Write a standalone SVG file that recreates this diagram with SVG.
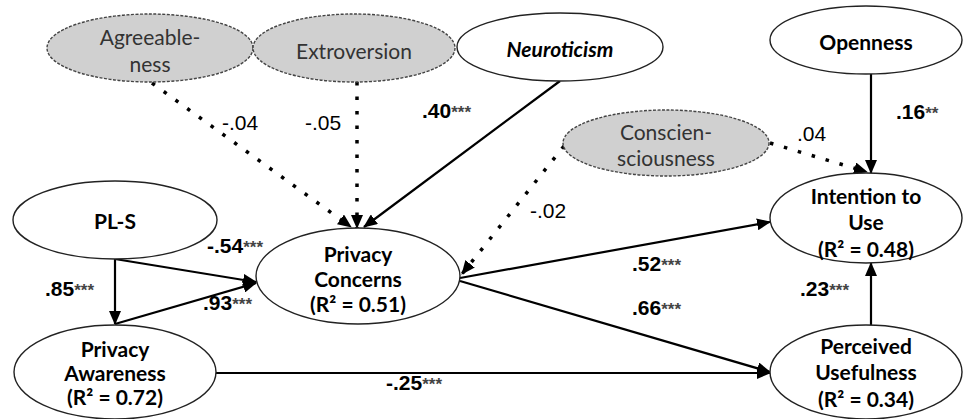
<svg xmlns="http://www.w3.org/2000/svg" width="967" height="419" viewBox="0 0 967 419">
<defs>
<marker id="ah" markerUnits="userSpaceOnUse" markerWidth="14" markerHeight="12" refX="13" refY="6" orient="auto">
<path d="M0,0 L14,6 L0,12 Z" fill="#000"/>
</marker>
<style>
.w{fill:#fff;stroke:#222;stroke-width:1.4}
.g{fill:#d0d0d0;stroke:#444;stroke-width:1.4;stroke-dasharray:3 1.5}
.nt{font-family:Lato,"Open Sans",sans-serif;font-size:21px;text-anchor:middle}
.b{font-weight:bold;fill:#000}
.r{fill:#333}
.lab{font-family:"Liberation Sans",Arial,sans-serif;font-size:21px}
.lb{font-weight:bold}
.ast{font-size:17px;fill:#444}
.s{fill:none;stroke:#000;stroke-width:2.2}
.d{fill:none;stroke:#000;stroke-width:3.5;stroke-dasharray:3.5 11;}
</style>
</defs>
<g id="connectors">
<line class="d" x1="152" y1="83" x2="351" y2="227" marker-end="url(#ah)"/>
<line class="d" x1="357" y1="82" x2="357" y2="228" marker-end="url(#ah)"/>
<line class="s" x1="560" y1="81" x2="364" y2="227" marker-end="url(#ah)"/>
<line class="d" x1="564" y1="146" x2="462" y2="274" marker-end="url(#ah)"/>
<line class="d" x1="770" y1="143" x2="867" y2="172" marker-end="url(#ah)"/>
<line class="s" x1="871" y1="74" x2="871" y2="173" marker-end="url(#ah)"/>
<line class="s" x1="871" y1="325" x2="871" y2="263" marker-end="url(#ah)"/>
<line class="s" x1="115" y1="259" x2="115" y2="324" marker-end="url(#ah)"/>
<line class="s" x1="115" y1="259" x2="256" y2="282" marker-end="url(#ah)"/>
<line class="s" x1="115" y1="324" x2="256" y2="283" marker-end="url(#ah)"/>
<line class="s" x1="460" y1="278" x2="770" y2="222" marker-end="url(#ah)"/>
<line class="s" x1="460" y1="281" x2="770" y2="372" marker-end="url(#ah)"/>
<line class="s" x1="215" y1="373" x2="770" y2="373" marker-end="url(#ah)"/>
</g>
<g id="labels" class="lab">
<text x="222" y="130">-.04</text>
<text x="305" y="130">-.05</text>
<text x="797" y="141">.04</text>
<text x="530" y="218">-.02</text>
<text class="lb" x="422" y="118">.40<tspan class="ast">***</tspan></text>
<text class="lb" x="896" y="119">.16<tspan class="ast">**</tspan></text>
<text class="lb" x="207" y="253">-.54<tspan class="ast">***</tspan></text>
<text class="lb" x="45" y="296">.85<tspan class="ast">***</tspan></text>
<text class="lb" x="203" y="310">.93<tspan class="ast">***</tspan></text>
<text class="lb" x="632" y="271">.52<tspan class="ast">***</tspan></text>
<text class="lb" x="632" y="315">.66<tspan class="ast">***</tspan></text>
<text class="lb" x="800" y="296">.23<tspan class="ast">***</tspan></text>
<text class="lb" x="386" y="390">-.25<tspan class="ast">***</tspan></text>
</g>
<g id="agreeableness">
<ellipse class="g" cx="150" cy="48" rx="103" ry="34"/>
<text class="nt r" x="150" y="45">Agreeable-</text>
<text class="nt r" x="150" y="72">ness</text>
</g>
<g id="extroversion">
<ellipse class="g" cx="354" cy="48" rx="101" ry="34"/>
<text class="nt r" x="354" y="59">Extroversion</text>
</g>
<g id="neuroticism">
<ellipse class="w" cx="560" cy="47" rx="103" ry="34"/>
<text class="nt b" x="560" y="57" font-style="italic">Neuroticism</text>
</g>
<g id="openness">
<ellipse class="w" cx="866" cy="40" rx="96" ry="34"/>
<text class="nt b" x="866" y="50">Openness</text>
</g>
<g id="conscientiousness">
<ellipse class="g" cx="666" cy="143" rx="103" ry="33"/>
<text class="nt r" x="666" y="140">Conscien-</text>
<text class="nt r" x="666" y="166">sciousness</text>
</g>
<g id="pls">
<ellipse class="w" cx="115" cy="220" rx="102" ry="39"/>
<text class="nt b" x="115" y="229">PL-S</text>
</g>
<g id="privacy-concerns">
<ellipse class="w" cx="358" cy="276" rx="102" ry="48"/>
<text class="nt b" x="358" y="262">Privacy</text>
<text class="nt b" x="358" y="287">Concerns</text>
<text class="nt b" x="358" y="312">(R² = 0.51)</text>
</g>
<g id="privacy-awareness">
<ellipse class="w" cx="115" cy="372" rx="101" ry="47"/>
<text class="nt b" x="115" y="357">Privacy</text>
<text class="nt b" x="115" y="381">Awareness</text>
<text class="nt b" x="115" y="405">(R² = 0.72)</text>
</g>
<g id="intention-to-use">
<ellipse class="w" cx="866" cy="218" rx="96" ry="45"/>
<text class="nt b" x="866" y="204">Intention to</text>
<text class="nt b" x="866" y="230">Use</text>
<text class="nt b" x="866" y="257">(R² = 0.48)</text>
</g>
<g id="perceived-usefulness">
<ellipse class="w" cx="866" cy="372" rx="96" ry="47"/>
<text class="nt b" x="866" y="354">Perceived</text>
<text class="nt b" x="866" y="380">Usefulness</text>
<text class="nt b" x="866" y="407">(R² = 0.34)</text>
</g>
</svg>
